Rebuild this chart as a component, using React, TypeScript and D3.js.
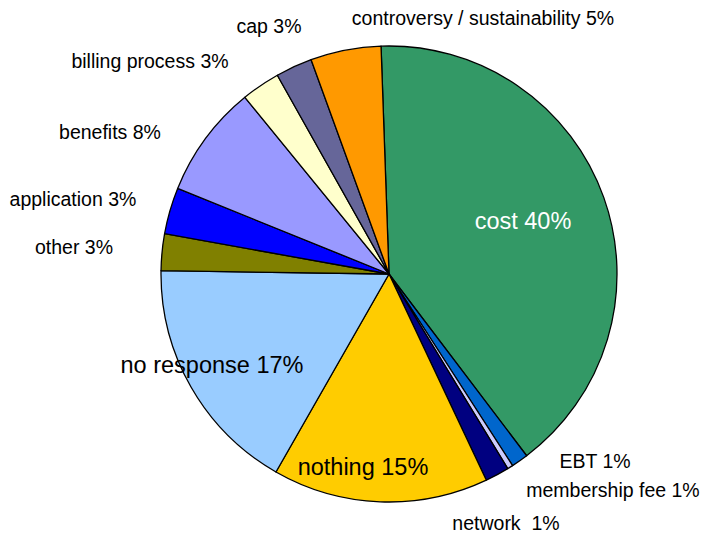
import React from "react";
import * as d3 from "d3";

const categories = [
  "cost", "EBT", "membership fee", "network", "nothing", "no response",
  "other", "application", "benefits", "billing process", "cap", "controversy / sustainability",
];
const values = [40.3, 1.2, 0.4, 1.7, 15.3, 17.0, 2.6, 3.3, 8.0, 2.75, 2.6, 5.0];
const percentLabels = ["40%", "1%", "1%", " 1%", "15%", "17%", "3%", "3%", "8%", "3%", "3%", "5%"];
const colors = [
  "#339966", "#0066CC", "#CCCCFF", "#000080", "#FFCC00", "#99CCFF",
  "#808000", "#0000FF", "#9999FF", "#FFFFCC", "#666699", "#FF9900",
];

// label placement (center x, baseline y, size, color)
const labelPos: [number, number, number, string][] = [
  [523, 229, 23.5, "#ffffff"],
  [595, 468, 19.5, "#000"],
  [613, 497, 19.5, "#000"],
  [506, 530, 19.5, "#000"],
  [363, 475, 23.5, "#000"],
  [212, 373, 23.5, "#000"],
  [74, 254, 19.5, "#000"],
  [73, 206, 19.5, "#000"],
  [110, 139, 19.5, "#000"],
  [150, 68, 19.5, "#000"],
  [269, 33, 19.5, "#000"],
  [483, 25, 19.5, "#000"],
];

export default function App() {
  const W = 705, H = 537;
  const cx = 389, cy = 274, r = 228;
  const start = (-2 * Math.PI) / 180;
  const pie = d3.pie<number>().sort(null).value((d) => d).startAngle(start).endAngle(start + 2 * Math.PI);
  const arcs = pie(values);
  const arc = d3.arc<d3.PieArcDatum<number>>().innerRadius(0).outerRadius(r);
  return (
    <svg width={W} height={H} style={{ position: "absolute", left: 0, top: 0, background: "#fff" }}
      fontFamily="'Liberation Sans', Arial, sans-serif">
      <g transform={`translate(${cx},${cy})`}>
        {arcs.map((a, i) => (
          <path key={i} d={arc(a) || ""} fill={colors[i]} stroke="#000" strokeWidth={1.3} strokeLinejoin="round" />
        ))}
      </g>
      {categories.map((c, i) => {
        const [x, y, s, col] = labelPos[i];
        return (
          <text key={i} x={x} y={y} fontSize={s} fill={col} textAnchor="middle" style={{ whiteSpace: "pre" }}>
            {`${c} ${percentLabels[i]}`}
          </text>
        );
      })}
    </svg>
  );
}
